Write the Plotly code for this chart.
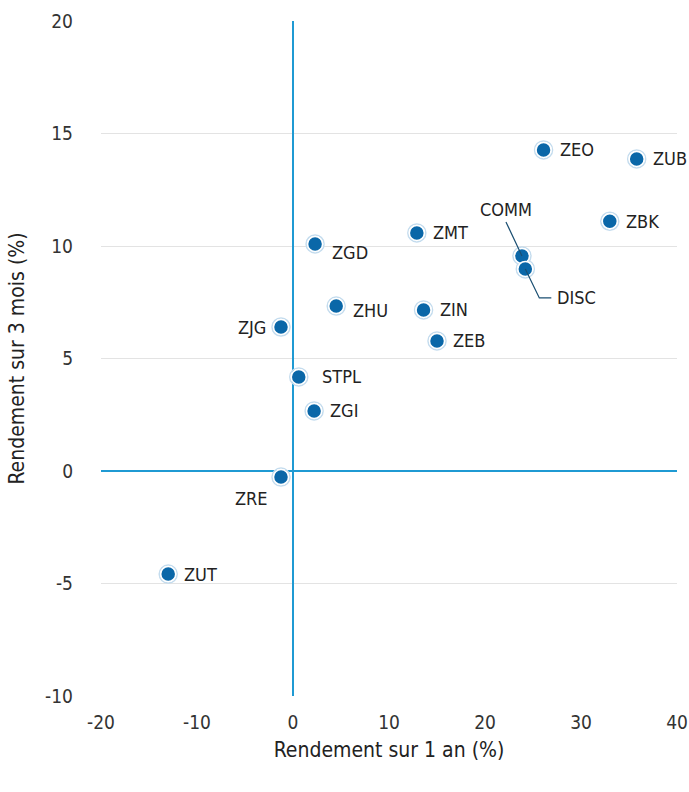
import plotly.graph_objects as go

names = ["ZEO", "ZUB", "ZBK", "COMM", "DISC", "ZMT", "ZGD", "ZHU", "ZIN", "ZJG", "ZEB", "STPL", "ZGI", "ZRE", "ZUT"]
ret_1y = [26.1, 35.8, 33.0, 23.85, 24.2, 12.9, 2.3, 4.5, 13.6, -1.25, 15.0, 0.6, 2.2, -1.25, -13.0]
ret_3m = [14.27, 13.87, 11.1, 9.56, 8.98, 10.58, 10.09, 7.33, 7.16, 6.4, 5.78, 4.18, 2.67, -0.27, -4.58]

x_ticks = [-20, -10, 0, 10, 20, 30, 40]
x_tick_labels = ["-20", "-10", "0", "10", "20", "30", "40"]
y_ticks = [-10, -5, 0, 5, 10, 15, 20]
y_tick_labels = ["-10", "-5", "0", "5", "10", "15", "20"]

FONT = "DejaVu Sans Condensed, Roboto, sans-serif"
BLUE = "#0a67a8"
AXIS_BLUE = "#1f9ad3"
LBL = 18

fig = go.Figure()
# outer light ring
fig.add_trace(go.Scatter(x=ret_1y, y=ret_3m, mode="markers", hoverinfo="skip",
                         marker=dict(size=18, color="rgba(0,0,0,0)", line=dict(color="#c4dcee", width=1.5))))
fig.add_trace(go.Scatter(x=ret_1y, y=ret_3m, mode="markers", text=names,
                         marker=dict(size=15, color=BLUE, line=dict(color="white", width=1.5))))

place = {
    "ZEO": ("left", 14, 0), "ZUB": ("left", 14, 0), "ZBK": ("left", 14, 0),
    "ZMT": ("left", 14, 0), "ZGD": ("left", 15, -9), "ZHU": ("left", 15, -4),
    "ZIN": ("left", 14, 0), "ZJG": ("right", -13, 0), "ZEB": ("left", 14, 0),
    "STPL": ("left", 21, 0), "ZGI": ("left", 14, 0), "ZRE": ("right", -11, -21),
    "ZUT": ("left", 14, 0),
}
for n, xv, yv in zip(names, ret_1y, ret_3m):
    if n in place:
        anc, dx, dy = place[n]
        fig.add_annotation(x=xv, y=yv, text=n, showarrow=False, xanchor=anc, yanchor="middle",
                           xshift=dx, yshift=dy, font=dict(family=FONT, size=LBL, color="#222"))
    elif n == "COMM":
        fig.add_annotation(x=xv, y=yv, text=n, showarrow=True, arrowhead=0, arrowwidth=1.2,
                           arrowcolor="#1b4f72", ax=-16, ay=-34, standoff=0, yanchor="bottom",
                           font=dict(family=FONT, size=LBL, color="#222"))
    elif n == "DISC":
        fig.add_annotation(x=xv, y=yv, text=n, showarrow=False, xanchor="left", yanchor="middle",
                           xshift=30, yshift=-29, font=dict(family=FONT, size=LBL, color="#222"))
        fig.add_shape(type="path", xref="x", yref="y", xsizemode="pixel", ysizemode="pixel",
                      xanchor=xv, yanchor=yv, path="M 0,0 L 14,-29 L 26,-29",
                      line=dict(color="#1b4f72", width=1.2))

fig.update_layout(
    width=689, height=792,
    margin=dict(l=101, r=12, t=21, b=96, autoexpand=False),
    plot_bgcolor="white", paper_bgcolor="white",
    showlegend=False,
    font=dict(family=FONT, size=19, color="#333"),
    xaxis=dict(range=[-20, 40], tickvals=x_ticks, ticktext=x_tick_labels, showgrid=False, zeroline=True,
               zerolinecolor=AXIS_BLUE, zerolinewidth=2, showline=False, automargin=False,
               ticks="", ticklen=0, ticklabelstandoff=13,
               title=dict(text="Rendement sur 1 an (%)", font=dict(family=FONT, size=21, color="#222"), standoff=10),
               tickfont=dict(family=FONT, size=19, color="#333")),
    yaxis=dict(range=[-10, 20], tickvals=y_ticks, ticktext=y_tick_labels, showgrid=True, gridcolor="#e3e3e3", gridwidth=1,
               zeroline=True, zerolinecolor=AXIS_BLUE, zerolinewidth=2, showline=False, automargin=False,
               ticks="", ticklen=0, ticklabelstandoff=27,
               title=dict(text="Rendement sur 3 mois (%)", font=dict(family=FONT, size=21, color="#222"), standoff=14),
               tickfont=dict(family=FONT, size=19, color="#333")),
)

fig.write_html("out.html", config={"displayModeBar": False},
               post_script="document.body.style.margin='0';document.body.style.overflow='hidden';")
